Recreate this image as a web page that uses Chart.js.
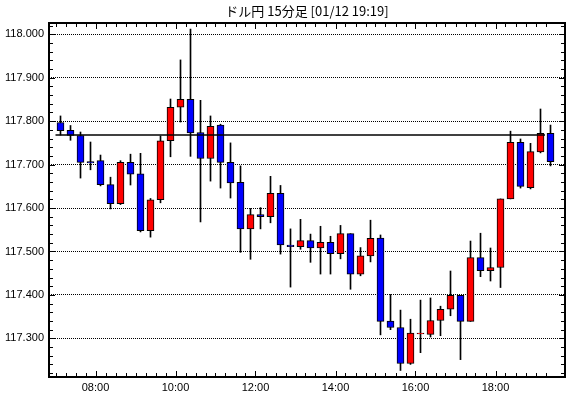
<!DOCTYPE html>
<html>
<head>
<meta charset="utf-8">
<script src="https://cdn.jsdelivr.net/npm/chart.js@4.4.0/dist/chart.umd.min.js"></script>
<style>
  html, body { margin: 0; padding: 0; background: #fff; }
</style>
</head>
<body>
<canvas id="grafico" width="570" height="398"></canvas>
<script>
const titulo = "ドル円 15分足 [01/12 19:19]";

// 15分足 07:00 - 19:15
const apertura = [117.797, 117.779, 117.767, 117.707, 117.709, 117.654, 117.610, 117.705, 117.679, 117.548,
  117.619, 117.755, 117.832, 117.850, 117.774, 117.714, 117.791, 117.705, 117.659, 117.552,
  117.585, 117.580, 117.634, 117.515, 117.511, 117.525, 117.508, 117.521, 117.495, 117.541,
  117.448, 117.490, 117.531, 117.340, 117.325, 117.242, 117.310, 117.309, 117.341, 117.367,
  117.399, 117.339, 117.486, 117.456, 117.463, 117.621, 117.751, 117.647, 117.729, 117.772];
const maximo = [117.812, 117.790, 117.775, 117.752, 117.722, 117.671, 117.709, 117.724, 117.726, 117.622,
  117.766, 117.851, 117.941, 118.012, 117.848, 117.812, 117.793, 117.750, 117.697, 117.599,
  117.601, 117.673, 117.652, 117.552, 117.574, 117.540, 117.558, 117.535, 117.560, 117.541,
  117.509, 117.572, 117.538, 117.401, 117.365, 117.344, 117.388, 117.393, 117.374, 117.455,
  117.399, 117.524, 117.542, 117.508, 117.621, 117.777, 117.759, 117.749, 117.828, 117.791];
const minimo = [117.768, 117.756, 117.669, 117.688, 117.651, 117.598, 117.608, 117.653, 117.545, 117.533,
  117.612, 117.718, 117.798, 117.719, 117.568, 117.662, 117.646, 117.623, 117.498, 117.482,
  117.552, 117.566, 117.494, 117.418, 117.505, 117.475, 117.448, 117.448, 117.483, 117.413,
  117.444, 117.476, 117.308, 117.320, 117.226, 117.240, 117.267, 117.303, 117.306, 117.352,
  117.251, 117.339, 117.442, 117.432, 117.417, 117.621, 117.646, 117.644, 117.727, 117.697];
const cierre = [117.778, 117.767, 117.705, 117.704, 117.654, 117.610, 117.705, 117.678, 117.548, 117.619,
  117.755, 117.832, 117.850, 117.773, 117.714, 117.788, 117.705, 117.658, 117.552, 117.585,
  117.580, 117.634, 117.515, 117.511, 117.525, 117.508, 117.521, 117.495, 117.541, 117.448,
  117.490, 117.530, 117.339, 117.325, 117.242, 117.312, 117.312, 117.341, 117.367, 117.399,
  117.339, 117.486, 117.456, 117.463, 117.621, 117.751, 117.650, 117.730, 117.772, 117.707];

const lineaPrecio = 117.768;

const ticksY = [117.3, 117.4, 117.5, 117.6, 117.7, 117.8, 117.9, 118.0];
const posHoras = [3.5, 11.5, 19.5, 27.5, 35.5, 43.5];
const etiquetasHoras = ["08:00", "10:00", "12:00", "14:00", "16:00", "18:00"];

const fuente = "'Liberation Sans Narrow', 'Liberation Sans', sans-serif";

const velas = apertura.map((o, i) => ({ x: i, y: [o, cierre[i]] }));
const mechas = maximo.map((h, i) => ({ x: i, y: [minimo[i], h] }));
const colores = apertura.map((o, i) => cierre[i] >= o ? "#ff0000" : "#0000ff");

const marco = {
  id: "marco",
  afterDraw(chart) {
    const { ctx, chartArea: a, scales: { x, y } } = chart;
    ctx.save();
    ctx.strokeStyle = "#000";
    ctx.lineWidth = 1;
    ctx.beginPath();
    for (let k = 0; k < cierre.length; k++) {
      const px = Math.round(x.getPixelForValue(k - 0.5)) + 0.5;
      const largo = posHoras.includes(k - 0.5) ? 6 : 4;
      ctx.moveTo(px, a.bottom); ctx.lineTo(px, a.bottom - largo);
      ctx.moveTo(px, a.top); ctx.lineTo(px, a.top + largo);
    }
    for (let m = 11722; m <= 11802; m += 2) {
      const py = Math.round(y.getPixelForValue(m / 100)) + 0.5;
      const largo = m % 10 === 0 ? 6 : 4;
      ctx.moveTo(a.left, py); ctx.lineTo(a.left + largo, py);
      ctx.moveTo(a.right, py); ctx.lineTo(a.right - largo, py);
    }
    ctx.stroke();
    ctx.lineWidth = 2;
    ctx.strokeRect(a.left, a.top, a.right - a.left, a.bottom - a.top);
    ctx.fillStyle = "#000";
    ctx.font = "13px 'Noto Sans CJK JP', sans-serif";
    ctx.textAlign = "center";
    ctx.textBaseline = "middle";
    ctx.fillText(titulo, (a.left + a.right) / 2, 11);
    ctx.restore();
  }
};

new Chart(document.getElementById("grafico"), {
  type: "bar",
  data: {
    datasets: [
      {
        type: "line",
        data: [{ x: -0.5, y: lineaPrecio }, { x: cierre.length - 1.55, y: lineaPrecio }],
        borderColor: "#000",
        borderWidth: 1.5,
        pointRadius: 0,
        order: 0
      },
      {
        data: velas,
        backgroundColor: colores,
        borderColor: "#000",
        borderWidth: 1,
        borderSkipped: false,
        barThickness: 7,
        grouped: false,
        order: 1
      },
      {
        data: mechas,
        backgroundColor: "#000",
        borderWidth: 0,
        barThickness: 1,
        grouped: false,
        order: 2
      }
    ]
  },
  options: {
    responsive: false,
    animation: false,
    devicePixelRatio: 1,
    layout: { padding: { top: 23, right: 5, left: 0, bottom: 0 } },
    plugins: {
      legend: { display: false },
      tooltip: { enabled: false }
    },
    scales: {
      x: {
        type: "linear",
        min: -1.15,
        max: 50.45,
        offset: false,
        grid: { display: false, drawTicks: false },
        border: { display: false },
        afterFit: s => { s.height = 21; },
        afterBuildTicks: s => { s.ticks = posHoras.map(v => ({ value: v })); },
        ticks: {
          autoSkip: false,
          maxRotation: 0,
          padding: 4,
          color: "#000",
          font: { family: fuente, size: 11 },
          callback: (v, i) => etiquetasHoras[i]
        }
      },
      y: {
        min: 117.211,
        max: 118.026,
        grid: { color: "#000", lineWidth: 1, drawTicks: false },
        border: { display: false, dash: [1, 1] },
        afterFit: s => { s.width = 49; },
        afterBuildTicks: s => { s.ticks = ticksY.map(v => ({ value: v })); },
        ticks: {
          padding: 5,
          color: "#000",
          font: { family: fuente, size: 11 },
          callback: v => v.toFixed(3)
        }
      }
    }
  },
  plugins: [marco]
});
</script>
</body>
</html>
